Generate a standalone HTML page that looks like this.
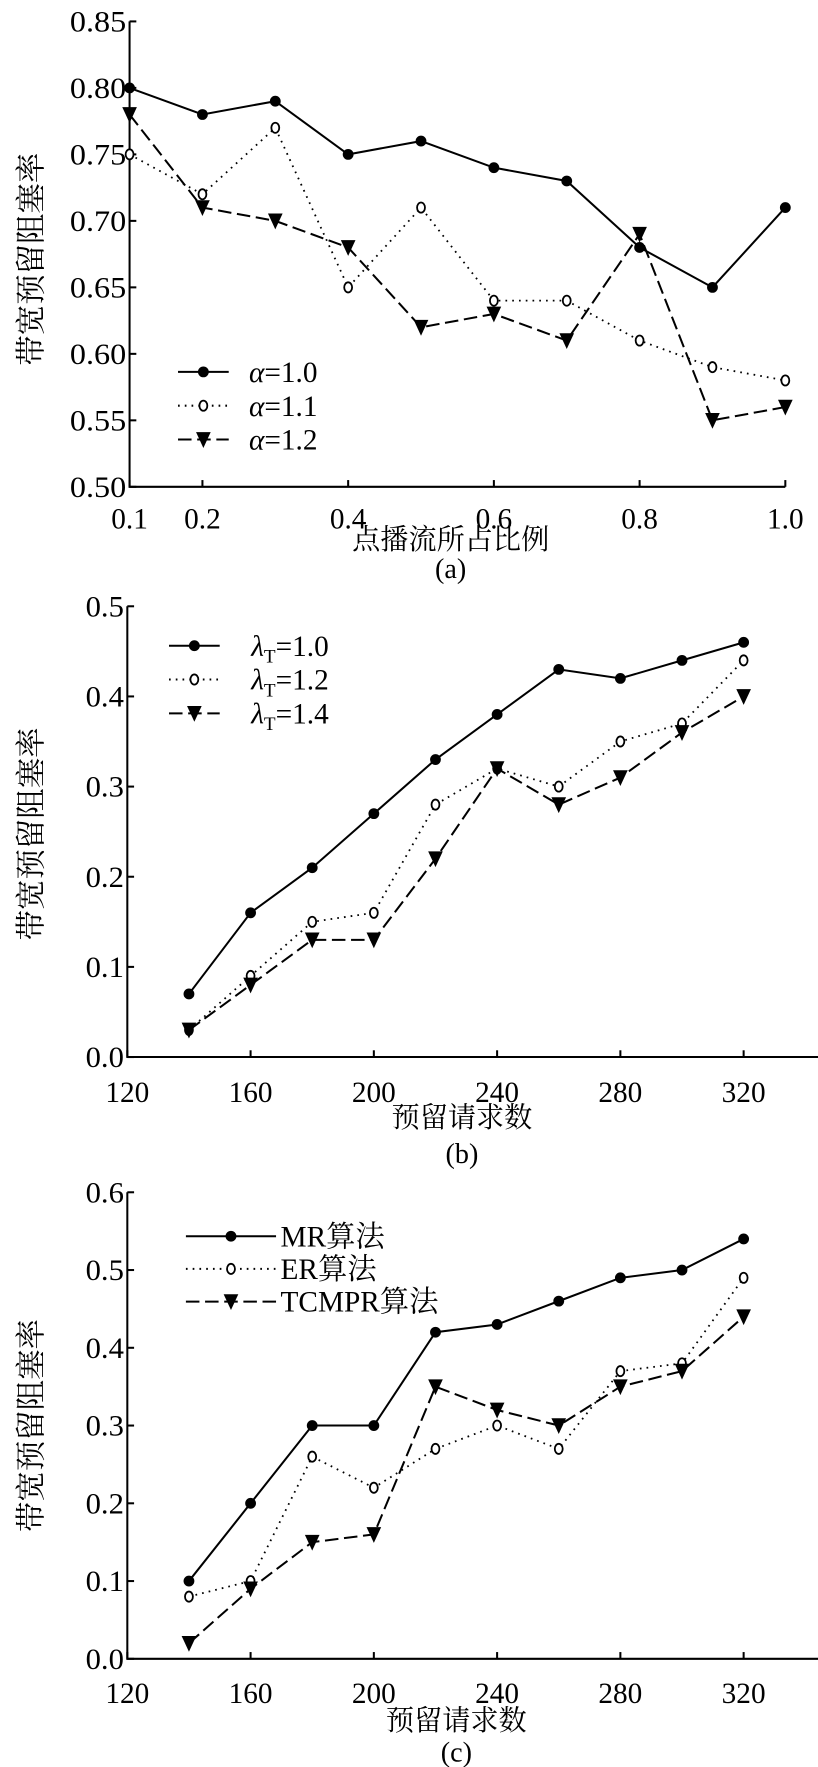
<!DOCTYPE html>
<html><head><meta charset="utf-8">
<style>
html,body{margin:0;padding:0;background:#fff;}
svg{display:block;font-family:"Liberation Serif","Noto Serif CJK SC",serif;}
</style></head>
<body>
<svg id="s" width="818" height="1767" viewBox="0 0 726 1568" preserveAspectRatio="none"></svg>
<script>
const xsA=[0.1,0.2,0.3,0.4,0.5,0.6,0.7,0.8,0.9,1.0];
const a10=[0.80,0.78,0.79,0.75,0.76,0.74,0.73,0.68,0.65,0.71];
const a11=[0.75,0.72,0.77,0.65,0.71,0.64,0.64,0.61,0.59,0.58];
const a12=[0.78,0.71,0.70,0.68,0.62,0.63,0.61,0.69,0.55,0.56];
const xTicksA=[0.1,0.2,0.4,0.6,0.8,1.0];
const yTicksA=[0.50,0.55,0.60,0.65,0.70,0.75,0.80,0.85];
const xsB=[140,160,180,200,220,240,260,280,300,320];
const b10=[0.07,0.16,0.21,0.27,0.33,0.38,0.43,0.42,0.44,0.46];
const b12=[0.03,0.09,0.15,0.16,0.28,0.32,0.30,0.35,0.37,0.44];
const b14=[0.03,0.08,0.13,0.13,0.22,0.32,0.28,0.31,0.36,0.40];
const xTicksB=[120,160,200,240,280,320];
const yTicksB=[0.0,0.1,0.2,0.3,0.4,0.5];
const cMR=[0.10,0.20,0.30,0.30,0.42,0.43,0.46,0.49,0.50,0.54];
const cER=[0.08,0.10,0.26,0.22,0.27,0.30,0.27,0.37,0.38,0.49];
const cTC=[0.02,0.09,0.15,0.16,0.35,0.32,0.30,0.35,0.37,0.44];
const yTicksC=[0.0,0.1,0.2,0.3,0.4,0.5,0.6];

const S=document.getElementById('s');const NS='http://www.w3.org/2000/svg';
function el(t,a,txt){const e=document.createElementNS(NS,t);for(const k in a)e.setAttribute(k,a[k]);if(txt!==undefined)e.textContent=txt;S.appendChild(e);return e;}
const styles={solid:'',dot:'1.5 4.5',dash:'12 5'};
function marker(kind,x,y,name){
  let m;
  if(kind==='solid'){m=el('circle',{cx:x,cy:y,r:4.8,fill:'#000'});}
  else if(kind==='dot'){m=el('ellipse',{cx:x,cy:y,rx:3.5,ry:4.5,fill:'#fff',stroke:'#000','stroke-width':1.6});}
  else {m=el('path',{d:`M${x-6.5},${y-6.5}L${x+6.5},${y-6.5}L${x},${y+7.5}Z`,fill:'#000'});}
  
  
}
function chart(cfg){
  const X=v=>cfg.x0+(v-cfg.xmin)/(cfg.xmax-cfg.xmin)*(cfg.x1-cfg.x0);
  const Y=v=>cfg.y0+(v-cfg.ymin)/(cfg.ymax-cfg.ymin)*(cfg.y1-cfg.y0);
  let ax=el('path',{d:`M${cfg.x0},${Y(cfg.ytop)}L${cfg.x0},${cfg.y0}L${cfg.axEnd},${cfg.y0}`,fill:'none',stroke:'#000','stroke-width':1.8});
  
  cfg.yt.forEach(v=>{
    const t=el('line',{x1:cfg.x0,x2:cfg.x0+6,y1:Y(v),y2:Y(v),stroke:'#000','stroke-width':1.8});
    
    const l=el('text',{x:cfg.x0-3,y:Y(v)+9,'text-anchor':'end','font-size':26,'textLength':cfg.yd===2?50:34,'lengthAdjust':'spacingAndGlyphs'},v.toFixed(cfg.yd));
    
  });
  cfg.xt.forEach(v=>{
    const t=el('line',{x1:X(v),x2:X(v),y1:cfg.y0,y2:cfg.y0-6,stroke:'#000','stroke-width':1.8});
    
    const l=el('text',{x:X(v),y:cfg.tickY+1,'text-anchor':'middle','font-size':26},cfg.xd?v.toFixed(1):String(v));
    
  });
  cfg.series.forEach((s,i)=>{
    const d=cfg.xs.map((x,j)=>(j?'L':'M')+X(x)+','+Y(s.v[j])).join('');
    const p=el('path',{d,fill:'none',stroke:'#000','stroke-width':s.k==='dot'?1.6:1.8,'stroke-dasharray':styles[s.k]});
    
    cfg.xs.forEach((x,j)=>marker(s.k,X(x),Y(s.v[j]),cfg.id+'-point'));
    const ly=cfg.leg.y+i*cfg.leg.dy;
    const ll=el('line',{x1:cfg.leg.x,x2:cfg.leg.x+cfg.leg.w,y1:ly,y2:ly,stroke:'#000','stroke-width':1.8,'stroke-dasharray':styles[s.k]});
    
    marker(s.k,cfg.leg.x+cfg.leg.w/2,ly,'legend-marker');
    const lt=el('text',{x:cfg.leg.x+cfg.leg.w+cfg.leg.gap,y:ly+9,'font-size':26});
    lt.innerHTML=s.label;
    
  });
  const yt=el('text',{transform:`translate(37,${cfg.ytitleY}) rotate(-90)`,'text-anchor':'middle','font-size':27},'带宽预留阻塞率');
  
  const xt=el('text',{x:cfg.capX,y:cfg.xtitleY,'text-anchor':'middle','font-size':25},cfg.xtitle);
  
  const cap=el('text',{x:cfg.capX,y:cfg.capY,'text-anchor':'middle','font-size':25},cfg.cap);
  
}
chart({id:'chart-a',x0:115,x1:697,xmin:0.1,xmax:1.0,y0:432,y1:19,ymin:0.5,ymax:0.85,ytop:0.85,axEnd:697,
  xs:xsA,xt:xTicksA,yt:yTicksA,yd:2,xd:true,tickY:468,
  series:[{v:a10,k:'solid',label:'<tspan font-style="italic">α</tspan>=1.0'},{v:a11,k:'dot',label:'<tspan font-style="italic">α</tspan>=1.1'},{v:a12,k:'dash',label:'<tspan font-style="italic">α</tspan>=1.2'}],
  leg:{x:158,y:330,dy:30,w:45,gap:18},ytitleY:230,xtitleY:487,capY:513,capX:400,xtitle:'点播流所占比例',cap:'(a)'});
chart({id:'chart-b',x0:113,x1:660,xmin:120,xmax:320,y0:938,y1:538,ymin:0,ymax:0.5,ytop:0.5,axEnd:740,
  xs:xsB,xt:xTicksB,yt:yTicksB,yd:1,xd:false,tickY:977,
  series:[{v:b10,k:'solid',label:'<tspan font-style="italic">λ</tspan><tspan font-size="17" dy="6">T</tspan><tspan dy="-6">=1.0</tspan>'},{v:b12,k:'dot',label:'<tspan font-style="italic">λ</tspan><tspan font-size="17" dy="6">T</tspan><tspan dy="-6">=1.2</tspan>'},{v:b14,k:'dash',label:'<tspan font-style="italic">λ</tspan><tspan font-size="17" dy="6">T</tspan><tspan dy="-6">=1.4</tspan>'}],
  leg:{x:150,y:573,dy:30,w:45,gap:28},ytitleY:740,xtitleY:1000,capY:1032,capX:410,xtitle:'预留请求数',cap:'(b)'});
chart({id:'chart-c',x0:113,x1:660,xmin:120,xmax:320,y0:1472,y1:1058,ymin:0,ymax:0.6,ytop:0.6,axEnd:726,
  xs:xsB,xt:xTicksB,yt:yTicksC,yd:1,xd:false,tickY:1510,
  series:[{v:cMR,k:'solid',label:'MR算法'},{v:cER,k:'dot',label:'ER算法'},{v:cTC,k:'dash',label:'TCMPR算法'}],
  leg:{x:165,y:1097,dy:29,w:80,gap:4},ytitleY:1265,xtitleY:1535,capY:1563,capX:405,xtitle:'预留请求数',cap:'(c)'});
</script>
</body></html>
